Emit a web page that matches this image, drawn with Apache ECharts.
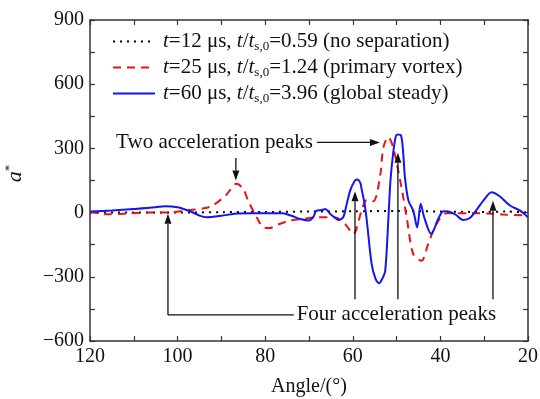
<!DOCTYPE html>
<html>
<head>
<meta charset="utf-8">
<script src="https://cdn.jsdelivr.net/npm/echarts@6/dist/echarts.min.js"></script>
<style>
  html, body { margin: 0; padding: 0; background: #fff; }
  #main { width: 540px; height: 399px; }
</style>
</head>
<body>
<div id="main"></div>
<script>
// angle (deg), a*
var seriesNames = ['t12', 't25', 't60'];
var legendParts = [
    ['12', '0.59', 'no separation'],
    ['25', '1.24', 'primary vortex'],
    ['60', '3.96', 'global steady']
];
var dotted12 = [[120, 0], [110, 0], [100, 0], [90, 2], [80, 3], [70, 5], [60, 6], [50, 8], [40, 5], [30, 3], [25, 5], [20, 0]];
var dashed25 = [
    [120, 3], [118, -3], [116, -8], [112, -5], [107, 0], [102.5, 0], [98, 10], [94, 20], [92, 33], [89, 80],
    [86.5, 135], [85, 110], [83.9, 56], [82, -20], [80.4, -69], [79, -72], [77, -55], [74.3, -37], [71, -28],
    [68.2, -22], [64.1, -22], [61.8, -53], [59.9, -100], [58, 9], [56.8, 59], [55.3, 53], [53.8, 166], [53, 306],
    [51.9, 353], [50.8, 306], [48.9, 119], [47.7, -22], [46.2, -194], [44.3, -225], [42.8, -147], [40.9, -53],
    [38.6, -3], [33.2, -3], [28, -5], [25.6, -9], [20, -14]
];
var solid60 = [
    [120, 5], [115, 10], [110, 17], [105, 25], [103, 30], [100, 25], [97, 5], [95, -14], [93.4, -22], [90, -15],
    [87, -5], [83, -3], [79, -3], [76, -3], [74, -15], [72, -30], [70, -37], [69, -20], [68.3, 9], [67, 12],
    [66.3, 17], [65.2, -5], [64, -25], [63.3, -34], [62.2, -22], [61.5, 30], [60.6, 103], [59.5, 150], [59, 155],
    [58.3, 140], [58, 111], [57.3, 40], [56.8, -37], [55.7, -240], [54.8, -310], [54, -330], [53.3, -310],
    [52.6, -272], [51.9, -37], [51.4, 150], [50.8, 275], [50.2, 355], [49.8, 365], [49, 361], [48.5, 280],
    [48.1, 166], [47.3, 56], [46.2, 9], [45.3, -69], [44.5, 41], [43.7, -22], [42.1, -100], [40.5, -30],
    [39.3, 6], [37.8, 3], [36.5, -10], [34.8, -34], [33.2, -24], [31.5, 20], [30.2, 56], [28.3, 95], [26.4, 75],
    [24.1, 33], [21.8, 9], [20, -22]
];
// annotation anchors in data coords
var twoPeaksDown = [[86.7, 255], [86.7, 150]];
var twoPeaksRight = [[68.2, 328], [53.8, 328]];
var fourPeaksUp = [[102.2, -5], [59.5, 100], [49.7, 280], [28, 55]];
var fourPeaksBaseY = -405;
var fourPeaksLineY = -478;
var fourPeaksLineEnd = 73.5;

var font = 'Liberation Serif';
var chart = echarts.init(document.getElementById('main'));

var axisCommon = {
    type: 'value',
    axisLine: { show: true, onZero: false, lineStyle: { color: '#333', width: 1.5 } },
    axisTick: { show: true, inside: true, length: 5, lineStyle: { color: '#333', width: 1.2 } },
    splitLine: { show: false }
};

var option = {
    animation: false,
    grid: { left: 90, right: 12, top: 20, bottom: 58, containLabel: false, outerBoundsMode: 'none' },
    legend: {
        orient: 'vertical',
        left: 107,
        top: 26,
        itemGap: 4,
        itemWidth: 42,
        itemHeight: 14,
        itemStyle: { opacity: 0 },
        data: seriesNames,
        formatter: function (name) {
            var p = legendParts[seriesNames.indexOf(name)];
            return '{i|t}=' + p[0] + ' μs, {i|t}/{i|t}{sub|s,0}=' + p[1] + ' (' + p[2] + ')';
        },
        textStyle: {
            fontFamily: font, fontSize: 21, color: '#111', padding: [0, 0, 0, 3],
            rich: {
                i: { fontFamily: font, fontSize: 21, fontStyle: 'italic', color: '#111' },
                sub: { fontFamily: font, fontSize: 13, color: '#111', padding: [10, 0, 0, 0] }
            }
        }
    },
    xAxis: [
        Object.assign({}, axisCommon, {
            min: 20, max: 120, interval: 10, inverse: true, position: 'bottom',
            name: 'Angle/(°)', nameLocation: 'middle', nameGap: 36,
            nameTextStyle: { fontFamily: font, fontSize: 20, color: '#111' },
            axisLabel: {
                fontFamily: font, fontSize: 20, color: '#111', margin: 6,
                formatter: function (v) { return v % 20 === 0 ? v : ''; }
            }
        }),
        Object.assign({}, axisCommon, {
            min: 20, max: 120, interval: 10, inverse: true, position: 'top',
            axisLabel: { show: false }
        })
    ],
    yAxis: [
        Object.assign({}, axisCommon, {
            min: -600, max: 900, interval: 150, position: 'left',
            name: '{a|a}{s|*}', nameLocation: 'middle', nameGap: 62, nameRotate: 90,
            nameTextStyle: {
                padding: [0, 0, 0, 14],
                rich: {
                    a: { fontFamily: font, fontSize: 22, fontStyle: 'italic', color: '#111' },
                    s: { fontFamily: font, fontSize: 13, color: '#111', padding: [0, 0, 12, 0] }
                }
            },
            axisLabel: {
                fontFamily: font, fontSize: 20, color: '#111', margin: 6,
                formatter: function (v) { return v % 300 === 0 ? (v < 0 ? '\u2212' + (-v) : v) : ''; }
            }
        }),
        Object.assign({}, axisCommon, {
            min: -600, max: 900, interval: 150, position: 'right',
            axisLabel: { show: false }
        })
    ],
    series: [
        {
            name: seriesNames[0], type: 'line', data: dotted12, symbol: 'none', smooth: 0.3,
            lineStyle: { color: '#000', width: 2, type: [2, 5] }, itemStyle: { color: '#000' }, z: 3
        },
        {
            name: seriesNames[1], type: 'line', data: dashed25, symbol: 'none', smooth: 0.3,
            lineStyle: { color: '#ee1111', width: 2, type: [8, 6] }, itemStyle: { color: '#ee1111' }, z: 4
        },
        {
            name: seriesNames[2], type: 'line', data: solid60, symbol: 'none', smooth: 0.3,
            lineStyle: { color: '#1515ee', width: 2 }, itemStyle: { color: '#1515ee' }, z: 5
        }
    ]
};
chart.setOption(option);

function px(p) { return chart.convertToPixel({ gridIndex: 0 }, p); }

function arrow(from, to) {
    var a = px(from), b = px(to);
    var dx = b[0] - a[0], dy = b[1] - a[1];
    var len = Math.sqrt(dx * dx + dy * dy);
    var ux = dx / len, uy = dy / len;
    var hl = 10, hw = 3.5;
    var bx = b[0] - ux * hl, by = b[1] - uy * hl;
    return [
        { type: 'line', shape: { x1: a[0], y1: a[1], x2: bx, y2: by }, style: { stroke: '#111', lineWidth: 1.3 }, z: 10 },
        {
            type: 'polygon',
            shape: { points: [[b[0], b[1]], [bx - uy * hw, by + ux * hw], [bx + uy * hw, by - ux * hw]] },
            style: { fill: '#111' }, z: 10
        }
    ];
}

var g = [];
g = g.concat(arrow(twoPeaksDown[0], twoPeaksDown[1]));
g = g.concat(arrow(twoPeaksRight[0], twoPeaksRight[1]));
var tp = px(twoPeaksRight[0]);
g.push({
    type: 'text', x: tp[0] - 4, y: tp[1],
    style: { text: 'Two acceleration peaks', fontFamily: font, fontSize: 21, fill: '#111', align: 'right', verticalAlign: 'middle' },
    z: 10
});
fourPeaksUp.forEach(function (p, i) {
    var base = i === 0 ? fourPeaksLineY : fourPeaksBaseY;
    g = g.concat(arrow([p[0], base], p));
});
var l0 = px([fourPeaksUp[0][0], fourPeaksLineY]), l1 = px([fourPeaksLineEnd, fourPeaksLineY]);
g.push({ type: 'line', shape: { x1: l0[0], y1: l0[1], x2: l1[0], y2: l1[1] }, style: { stroke: '#111', lineWidth: 1.3 }, z: 10 });
g.push({
    type: 'text', x: l1[0] + 3, y: l1[1],
    style: { text: 'Four acceleration peaks', fontFamily: font, fontSize: 21, fill: '#111', align: 'left', verticalAlign: 'middle' },
    z: 10
});
chart.setOption({ graphic: g });
</script>
</body>
</html>
